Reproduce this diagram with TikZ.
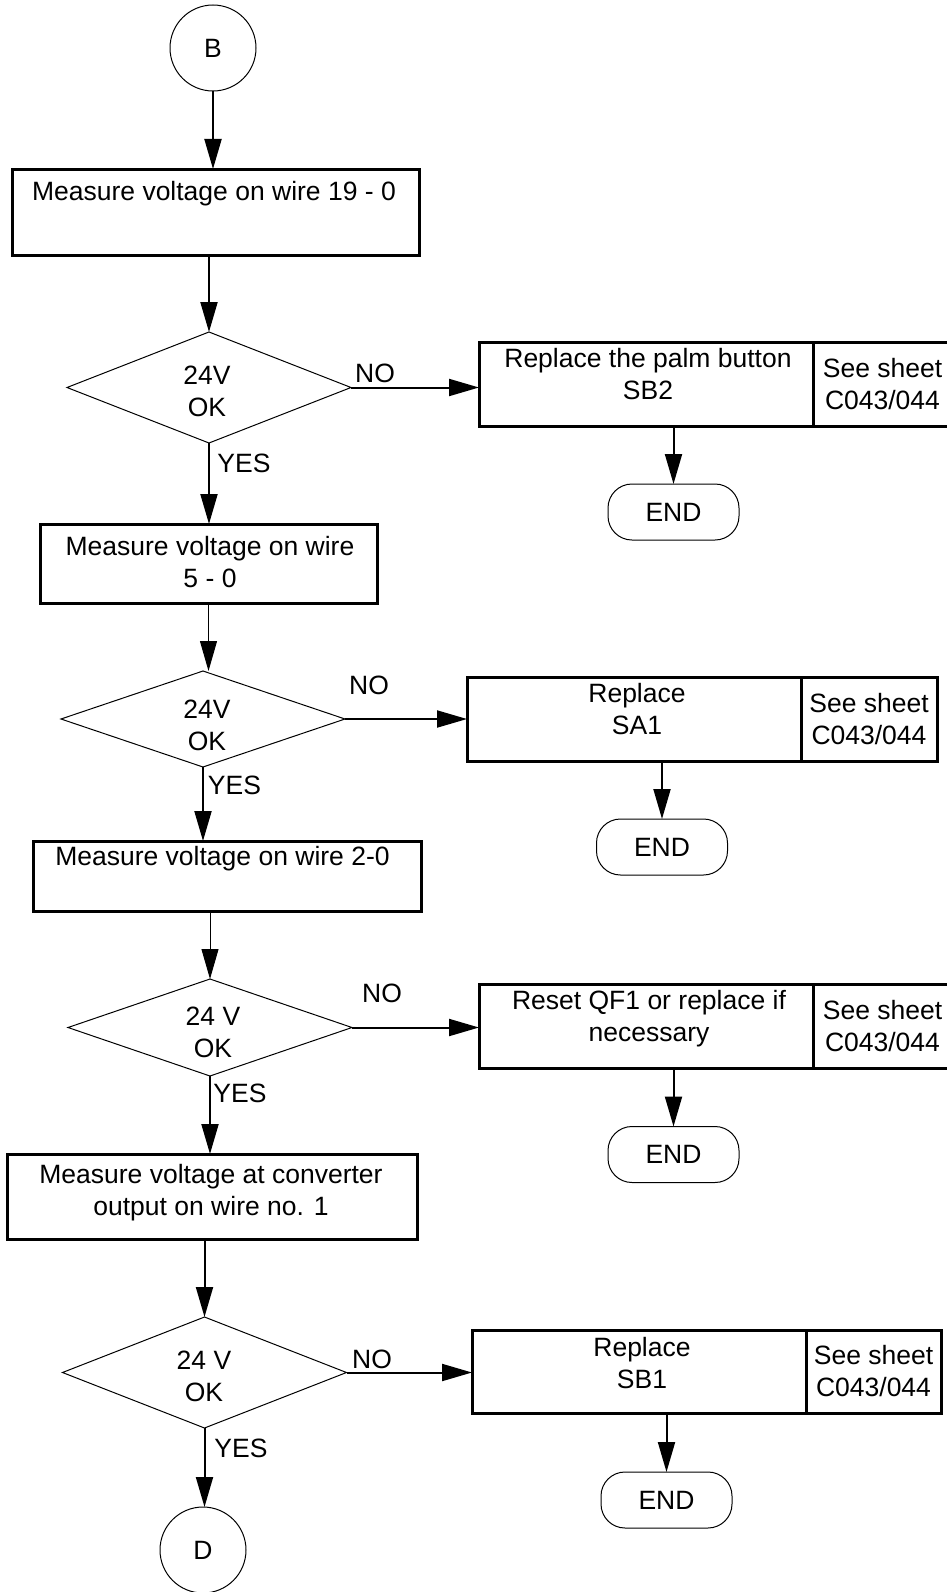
\documentclass[tikz,border=0pt]{standalone}
\usepackage{fontspec}
\setmainfont{Liberation Sans}
\usetikzlibrary{arrows.meta,shapes.geometric}
\tikzset{
  every node/.style={inner sep=0pt, outer sep=0pt, align=center, font=\fontsize{26.5}{32}\selectfont},
  procbox/.style={draw, rectangle, line width=3pt},
  testbox/.style={draw, diamond, line width=1pt, minimum width=284pt},
  endbox/.style={draw, rectangle, rounded corners=24pt, line width=1pt, minimum width=131pt, minimum height=56pt},
  refcirc/.style={draw, circle, line width=1pt, minimum size=86pt},
  flowarr/.style={line width=2pt, -{Triangle[length=30pt, width=17pt]}},
  thinarr/.style={flowarr, line width=1pt}
}
\begin{document}
\begin{tikzpicture}[x=1pt, y=-1pt]
                    \useasboundingbox (0,0) rectangle (947,1592);
                    \node[refcirc] (b) at (213,48) {B};
                    \node[procbox, minimum width=407pt, minimum height=86pt] (m1) at (215.5,212) {};
                    \node (m1t) at (214,194) {Measure voltage on wire 19 - 0};
                    \node[testbox, minimum height=111pt] (d1) at (209,387.5) {};
                    \node (d1t) at (207,391) {24V\\OK};
                    \node (no1) at (375,373) {NO};
                    \node (yes1) at (244,463) {YES};
                    \node[procbox, minimum width=334pt, minimum height=84pt] (r1) at (646,384) {};
                    \node (r1t) at (648,374) {Replace the palm button\\SB2};
                    \node[procbox, minimum width=139pt, minimum height=84pt, anchor=west] (s1) at (r1.east) {See sheet\\C043/044};
                    \node[endbox] (e1) at (673.5,512) {END};

                    \node[procbox, minimum width=337pt, minimum height=79pt] (m2) at (208.5,563.5) {};
                    \node (m2t) at (210,562) {Measure voltage on wire\\5 - 0};
                    \node[testbox, minimum height=96pt] (d2) at (203,719) {};
                    \node (d2t) at (207,725) {24V\\OK};
                    \node (no2) at (369,685) {NO};
                    \node (yes2) at (234.5,785) {YES};
                    \node[procbox, minimum width=334pt, minimum height=84pt] (r2) at (634,719) {};
                    \node (r2t) at (637,709) {Replace\\SA1};
                    \node[procbox, minimum width=136pt, minimum height=84pt, anchor=west] (s2) at (r2.east) {See sheet\\C043/044};
                    \node[endbox] (e2) at (662,847) {END};

                    \node[procbox, minimum width=388pt, minimum height=70pt] (m3) at (227,876) {};
                    \node (m3t) at (222.5,859) {Measure voltage on wire 2-0};
                    \node[testbox, minimum height=97pt] (d3) at (210,1027.5) {};
                    \node (d3t) at (213,1032) {24 V\\OK};
                    \node (no3) at (382,993) {NO};
                    \node (yes3) at (240,1093) {YES};
                    \node[procbox, minimum width=334pt, minimum height=84pt] (r3) at (646,1026) {};
                    \node (r3t) at (649,1019) {Reset QF1 or replace if\\necessary};
                    \node[procbox, minimum width=139pt, minimum height=84pt, anchor=west] (s3) at (r3.east) {See sheet\\C043/044};
                    \node[endbox] (e3) at (673.5,1154.5) {END};

                    \node[procbox, minimum width=410pt, minimum height=85pt] (m4) at (212,1196.5) {};
                    \node (m4t) at (211,1192.5) {Measure voltage at converter\\output on wire no. 1};
                    \node[testbox, minimum height=111pt] (d4) at (204.5,1372.5) {};
                    \node (d4t) at (204,1376.5) {24 V\\OK};
                    \node (no4) at (372,1359) {NO};
                    \node (yes4) at (241,1448) {YES};
                    \node[procbox, minimum width=334pt, minimum height=83pt] (r4) at (639,1371.5) {};
                    \node (r4t) at (642,1363.5) {Replace\\SB1};
                    \node[procbox, minimum width=135pt, minimum height=83pt, anchor=west] (s4) at (r4.east) {See sheet\\C043/044};
                    \node[endbox] (e4) at (666.5,1500) {END};
                    \node[refcirc] (dd) at (203,1550) {D};

                    \draw[flowarr] (b.south) -- (b.south |- m1.north);
                    \draw[flowarr] (m1.south -| d1.north) -- (d1.north);
                    \draw[flowarr] (d1.east) -- (d1.east -| r1.west);
                    \draw[flowarr] (r1.south -| e1.north) -- (e1.north);
                    \draw[flowarr] (d1.south) -- (d1.south |- m2.north);
                    \draw[thinarr] (m2.south) -- (m2.south |- d2.north);
                    \draw[flowarr] (d2.east) -- (d2.east -| r2.west);
                    \draw[flowarr] (r2.south -| e2.north) -- (e2.north);
                    \draw[flowarr] (d2.south) -- (d2.south |- m3.north);
                    \draw[thinarr] (d3.north |- m3.south) -- (d3.north);
                    \draw[flowarr] (d3.east) -- (d3.east -| r3.west);
                    \draw[flowarr] (r3.south -| e3.north) -- (e3.north);
                    \draw[flowarr] (d3.south) -- (d3.south |- m4.north);
                    \draw[flowarr] (m4.south -| d4.north) -- (d4.north);
                    \draw[flowarr] (d4.east) -- (d4.east -| r4.west);
                    \draw[flowarr] (r4.south -| e4.north) -- (e4.north);
                    \draw[flowarr] (d4.south) -- (d4.south |- dd.north);
                \end{tikzpicture}
\end{document}
